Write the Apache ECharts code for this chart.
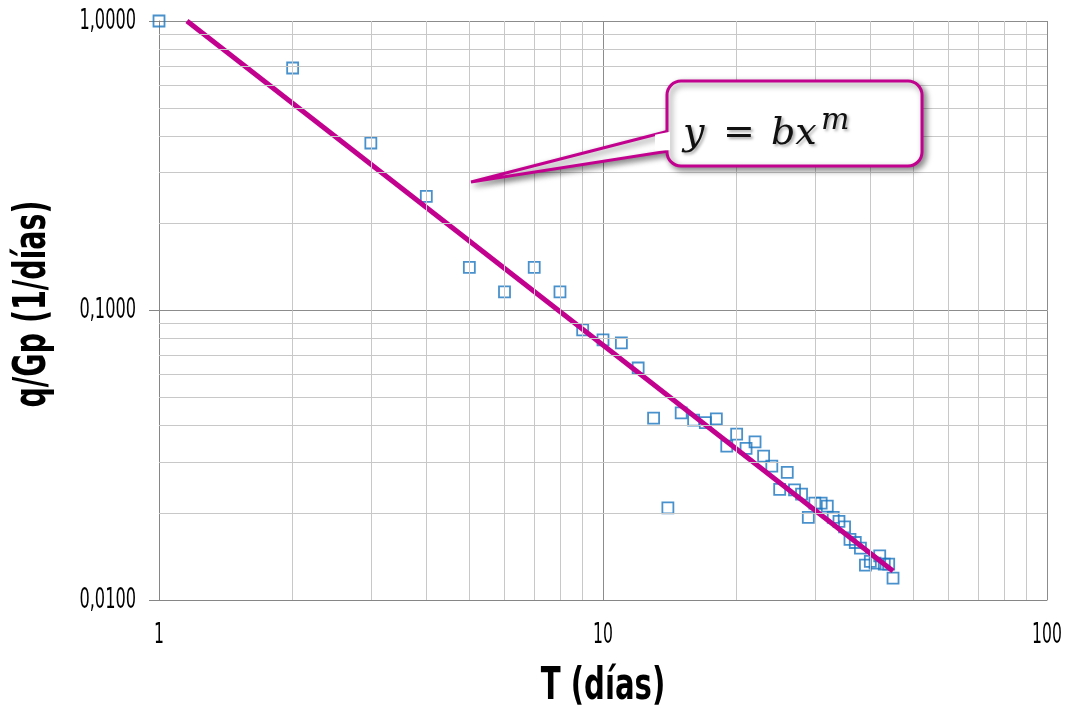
<!DOCTYPE html>
<html>
<head>
<meta charset="utf-8">
<script src="https://cdn.jsdelivr.net/npm/echarts@6/dist/echarts.min.js"></script>
<style>
  html, body { margin: 0; padding: 0; background: #fff; }
  #main { width: 1065px; height: 709px; }
</style>
</head>
<body>
<div id="main"></div>
<script>
// datos (T en días, q/Gp en 1/días)
var tDias = [1, 2, 3, 4, 5, 6, 7, 8, 9, 10, 11, 12, 13, 14, 15, 16, 17, 18, 19, 20,
  21, 22, 23, 24, 25, 26, 27, 28, 29, 30, 31, 32, 33, 34, 35, 36, 37, 38, 39, 40,
  41, 42, 43, 44, 45];
var qGp = [1.0, 0.688, 0.379, 0.248, 0.141, 0.116, 0.141, 0.116, 0.0857, 0.0792,
  0.0773, 0.0633, 0.0425, 0.0208, 0.0443, 0.0418, 0.0410, 0.0422, 0.0340, 0.0374,
  0.0334, 0.0352, 0.0314, 0.0290, 0.0241, 0.0276, 0.0240, 0.0232, 0.0193, 0.0216,
  0.0216, 0.0211, 0.0193, 0.0187, 0.0179, 0.0162, 0.0158, 0.0151, 0.0132, 0.0136,
  0.0134, 0.0142, 0.0133, 0.0133, 0.0119];

// línea de tendencia potencial (extremos)
var trendX = [1.156, 45];
var trendY = [1.0, 0.0126];

// marcas de los ejes
var xTicks = [1, 10, 100];
var yTicks = [0.01, 0.1, 1];
var xTickLabels = ['1', '10', '100'];
var yTickLabels = ['0,0100', '0,1000', '1,0000'];

// líneas de división secundarias
var minorX = [2, 3, 4, 5, 6, 7, 8, 9, 20, 30, 40, 50, 60, 70, 80, 90];
var minorY = [0.02, 0.03, 0.04, 0.05, 0.06, 0.07, 0.08, 0.09,
  0.2, 0.3, 0.4, 0.5, 0.6, 0.7, 0.8, 0.9];

var magenta = '#c2028f';
var cond = '"DejaVu Sans Condensed", "DejaVu Sans", sans-serif';
var serif = '"DejaVu Serif", serif';

var myChart = echarts.init(document.getElementById('main'));

var minorLines = [];
minorX.forEach(function (v) { minorLines.push({ xAxis: v }); });
minorY.forEach(function (v) { minorLines.push({ yAxis: v }); });

var calloutShadow = {
  shadowBlur: 6,
  shadowColor: 'rgba(0,0,0,0.45)',
  shadowOffsetX: 3,
  shadowOffsetY: 3
};
var eqShadow = {
  textShadowBlur: 3,
  textShadowColor: 'rgba(0,0,0,0.35)',
  textShadowOffsetX: 2,
  textShadowOffsetY: 2
};

var option = {
  animation: false,
  grid: { left: 159, right: 18, top: 21, bottom: 109 },
  xAxis: {
    type: 'log',
    logBase: 10,
    min: 1,
    max: 100,
    axisLine: { lineStyle: { color: '#868686', width: 1 } },
    axisTick: { show: false },
    axisLabel: { show: false },
    splitLine: { show: true, lineStyle: { color: '#8c8c8c', width: 1 } }
  },
  yAxis: {
    type: 'log',
    logBase: 10,
    min: 0.01,
    max: 1,
    axisLine: { show: true, lineStyle: { color: '#868686', width: 1 } },
    axisTick: { show: true, length: 10, lineStyle: { color: '#868686' } },
    axisLabel: { show: false },
    splitLine: { show: true, lineStyle: { color: '#8c8c8c', width: 1 } }
  },
  series: [
    {
      // rejilla secundaria
      type: 'line',
      data: [],
      z: 1,
      silent: true,
      markLine: {
        silent: true,
        symbol: 'none',
        label: { show: false },
        lineStyle: { color: '#c8c8c8', width: 1, type: 'solid' },
        data: minorLines
      }
    },
    {
      name: 'q/Gp',
      type: 'scatter',
      z: 3,
      symbol: 'rect',
      symbolSize: 11,
      itemStyle: { color: 'rgba(255,255,255,0)', borderColor: '#1a75bf', borderWidth: 1.8 },
      data: tDias.map(function (t, i) { return [t, qGp[i]]; })
    },
    {
      name: 'Tendencia',
      type: 'line',
      z: 4,
      symbol: 'none',
      lineStyle: { color: magenta, width: 5 },
      data: trendX.map(function (t, i) { return [t, trendY[i]]; })
    }
  ]
};

myChart.setOption(option);

// textos de ejes (fuente estrecha), colocados con la escala del gráfico
var graphics = [];
xTicks.forEach(function (v, i) {
  var p = myChart.convertToPixel({ gridIndex: 0 }, [v, 0.01]);
  graphics.push({
    type: 'text', x: p[0], y: p[1] + 22, scaleX: 0.62,
    style: { text: xTickLabels[i], fontFamily: cond, fontSize: 28, fill: '#000', align: 'center', verticalAlign: 'top' }
  });
});
yTicks.forEach(function (v, i) {
  var p = myChart.convertToPixel({ gridIndex: 0 }, [1, v]);
  graphics.push({
    type: 'text', x: p[0] - 23, y: p[1], scaleX: 0.62,
    style: { text: yTickLabels[i], fontFamily: cond, fontSize: 29, fill: '#000', align: 'right', verticalAlign: 'middle' }
  });
});
graphics.push({
  type: 'text', x: 603, y: 687, scaleX: 0.72,
  style: { text: 'T (días)', fontFamily: cond, fontWeight: 'bold', fontSize: 45, fill: '#000', align: 'center', verticalAlign: 'middle' }
});
graphics.push({
  type: 'text', x: 34, y: 304, rotation: Math.PI / 2, scaleX: 0.72,
  style: { text: 'q/Gp (1/días)', fontFamily: cond, fontWeight: 'bold', fontSize: 44, fill: '#000', align: 'center', verticalAlign: 'middle' }
});

// recuadro con la ecuación
graphics.push(
  {
    type: 'polygon', z: 10,
    shape: { points: [[669, 131], [471, 182], [669, 151]] },
    style: Object.assign({ fill: '#fff', stroke: magenta, lineWidth: 3 }, calloutShadow)
  },
  {
    type: 'rect', z: 11,
    shape: { x: 667, y: 81, width: 255, height: 85, r: 14 },
    style: Object.assign({ fill: '#fff', stroke: magenta, lineWidth: 3 }, calloutShadow)
  },
  {
    type: 'polygon', z: 12,
    shape: { points: [[655, 134.8], [670, 131.8], [670, 150.2], [655, 150.6]] },
    style: { fill: '#fff' }
  },
  {
    type: 'text', z: 13, x: 683, y: 134,
    style: Object.assign({ text: 'y', fontFamily: serif, fontStyle: 'italic', fontSize: 38, fill: '#111', verticalAlign: 'middle' }, eqShadow)
  },
  {
    type: 'text', z: 13, x: 723, y: 134,
    style: Object.assign({ text: '=', fontFamily: serif, fontSize: 38, fill: '#111', verticalAlign: 'middle' }, eqShadow)
  },
  {
    type: 'text', z: 13, x: 771, y: 134,
    style: Object.assign({ text: 'bx', fontFamily: serif, fontStyle: 'italic', fontSize: 38, fill: '#111', verticalAlign: 'middle' }, eqShadow)
  },
  {
    type: 'text', z: 13, x: 821, y: 121,
    style: Object.assign({ text: 'm', fontFamily: serif, fontStyle: 'italic', fontSize: 30, fill: '#111', verticalAlign: 'middle' }, eqShadow)
  }
);

myChart.setOption({ graphic: graphics });
</script>
</body>
</html>
